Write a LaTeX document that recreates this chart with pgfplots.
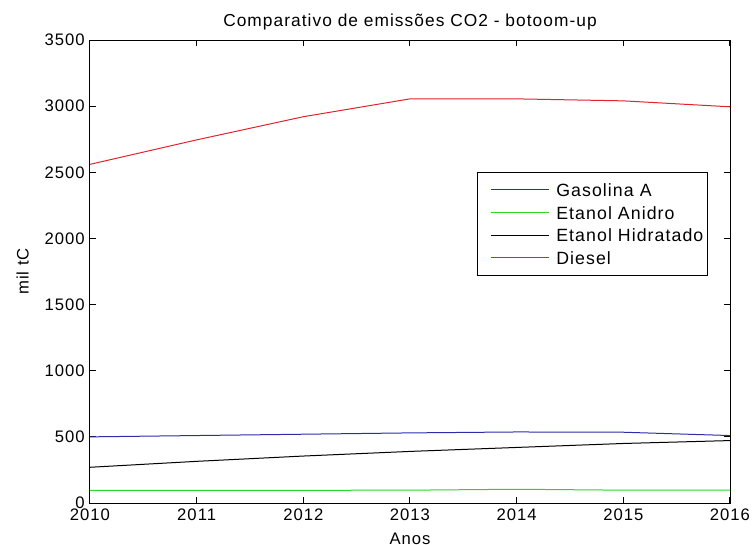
\documentclass[border=0pt]{standalone}
\usepackage{pgfplots}
\usepackage{pgfplotstable}
\pgfplotsset{compat=1.18}
\usepackage{fontspec}
\setmainfont{Liberation Sans}[LetterSpace=6]

\definecolor{mblue}{RGB}{45,45,170}
\definecolor{mgreen}{RGB}{40,215,40}
\definecolor{mred}{RGB}{225,35,45}

% emissoes (mil tC)
\pgfplotstableread{
ano   gasolina anidro hidratado diesel
2010  500      95     270       2560
2011  510      95     315       2745
2012  520      96     355       2920
2013  530      97     390       3055
2014  537      104    420       3055
2015  535      97     450       3040
2016  510      97     472       2995
}\emissoes

\newcommand{\mfs}{\fontsize{12.5}{15}\selectfont}
\newcommand{\tfs}{\fontsize{13}{15}\selectfont}
\newcommand{\lfs}{\fontsize{13.3}{15}\selectfont}

\begin{document}
\begin{tikzpicture}
\useasboundingbox (-67.5pt,-30.75pt) rectangle (496.5pt,377.25pt);
\begin{axis}[
    scale only axis,
    width=480pt, height=347.25pt,
    xmin=2010, xmax=2016,
    ymin=0, ymax=3500,
    xtick={2010,2011,...,2016},
    ytick={0,500,...,3500},
    tick align=inside,
    major tick length=4.5pt,
    axis line style={line width=0.75pt},
    every tick/.style={line width=0.75pt, black},
    /pgf/number format/1000 sep={},
    /pgf/number format/assume math mode=true,
    ticklabel style={font=\mfs},
    xticklabel style={anchor=base, inner sep=0pt, yshift=-13.25pt},
    yticklabel style={anchor=east, inner sep=0pt, xshift=-3.75pt},
    title={Comparativo de emissões CO2 - botoom-up},
    title style={font=\tfs, anchor=base, at={(0.5,1)}, inner sep=0pt, yshift=4pt},
    xlabel={Anos},
    xlabel style={font=\mfs, anchor=base, at={(0.5,0)}, inner sep=0pt, yshift=-31.25pt},
    ylabel={mil tC},
    ylabel style={font=\mfs, anchor=base, at={(0,0.5)}, inner sep=0pt, yshift=46pt},
    legend style={
        at={(0.605,0.715)}, anchor=north west,
        draw=black, line width=0.75pt, fill=white,
        font=\lfs, inner xsep=3pt, inner ysep=7pt,
        row sep=5pt,
        nodes={inner xsep=0pt, inner ysep=0pt, text height=11pt, text depth=1pt},
        /tikz/every odd column/.append style={column sep=5pt},
    },
    legend cell align=left,
    legend image code/.code={
        \path (0pt,0pt);
        \draw[#1, line width=0.75pt] (6.75pt,0pt) -- (50.25pt,0pt);
    },
]
\addplot[mblue, line width=0.75pt] table[x=ano, y=gasolina] {\emissoes};
\addplot[mgreen, line width=0.75pt] table[x=ano, y=anidro] {\emissoes};
\addplot[black, line width=0.75pt] table[x=ano, y=hidratado] {\emissoes};
\addplot[mred, line width=0.75pt] table[x=ano, y=diesel] {\emissoes};
\legend{Gasolina A, Etanol Anidro, Etanol Hidratado, Diesel}
\end{axis}
\end{tikzpicture}
\end{document}
